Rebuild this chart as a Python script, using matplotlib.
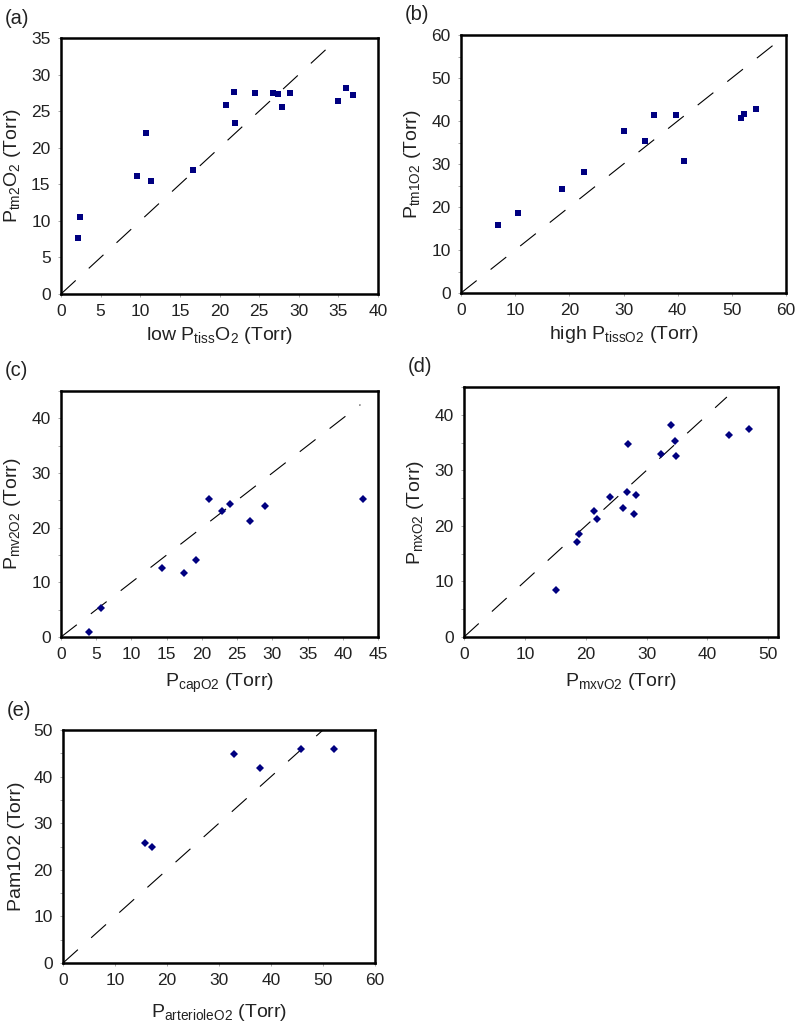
import matplotlib
matplotlib.use('Agg')
import matplotlib.pyplot as plt
from matplotlib.ticker import MultipleLocator

plt.rcParams['font.family'] = ['Liberation Sans', 'DejaVu Sans']
plt.rcParams['mathtext.fontset'] = 'custom'
plt.rcParams['mathtext.rm'] = 'Liberation Sans'
plt.rcParams['mathtext.it'] = 'Liberation Sans:italic'

# (a) low tissue PO2 vs Ptm2O2
a_x = [2.1, 2.4, 9.6, 10.7, 11.4, 16.7, 20.8, 21.8, 22.0, 24.5, 26.8, 27.4, 27.9, 28.9, 35.0, 35.9, 36.8]
a_y = [7.7, 10.5, 16.2, 22.0, 15.5, 17.0, 25.9, 27.6, 23.4, 27.5, 27.5, 27.3, 25.5, 27.5, 26.4, 28.2, 27.2]

# (b) high tissue PO2 vs Ptm1O2
b_x = [6.85, 10.6, 18.6, 22.65, 30.1, 33.9, 35.7, 39.6, 41.2, 51.6, 52.2, 54.4]
b_y = [15.9, 18.65, 24.3, 28.2, 37.7, 35.4, 41.3, 41.3, 30.6, 40.6, 41.6, 42.8]

# (c) capillary PO2 vs Pmv2O2
c_x = [4.0, 5.7, 14.4, 17.4, 19.1, 21.0, 22.9, 24.0, 26.8, 29.0, 42.9]
c_y = [0.9, 5.35, 12.6, 11.7, 14.1, 25.2, 23.0, 24.3, 21.3, 24.0, 25.2]

# (d) PmxvO2 vs PmxO2
d_x = [15.05, 18.6, 18.85, 21.4, 21.9, 24.0, 26.2, 26.8, 26.9, 27.9, 28.3, 32.4, 34.0, 34.7, 34.9, 43.5, 46.8]
d_y = [8.5, 17.1, 18.6, 22.6, 21.3, 25.2, 23.3, 26.1, 34.7, 22.2, 25.5, 33.0, 38.2, 35.3, 32.5, 36.4, 37.5]

# (e) arteriole PO2 vs Pam1O2
e_x = [15.8, 17.1, 32.9, 37.9, 45.8, 52.1]
e_y = [25.8, 24.8, 44.9, 41.9, 45.9, 45.9]

panels = [
    # tag, x, y, marker, xlim, ylim, xstep, ystep, diag end, xlabel, ylabel, rect(px), xlabelpad
    ('(a)', a_x, a_y, 's', 40, 35, 5, 5, 34.5,
     r'low $\mathregular{P_{tiss}O_2}$ (Torr)', r'$\mathregular{P_{tm2}O_2}$ (Torr)',
     (61, 38, 378, 294), 4),
    ('(b)', b_x, b_y, 's', 60, 60, 10, 10, 58.5,
     r'high $\mathregular{P_{tissO2}}$ (Torr)', r'$\mathregular{P_{tm1O2}}$ (Torr)',
     (461, 35, 786, 293), 4),
    ('(c)', c_x, c_y, 'D', 45, 45, 5, 10, 42.5,
     r'$\mathregular{P_{capO2}}$ (Torr)', r'$\mathregular{P_{mv2O2}}$ (Torr)',
     (61, 391, 378, 637), 7),
    ('(d)', d_x, d_y, 'D', 51.6, 45, 10, 10, 43.2,
     r'$\mathregular{P_{mxvO2}}$ (Torr)', r'$\mathregular{P_{mxO2}}$ (Torr)',
     (464, 387, 778, 637), 6),
    ('(e)', e_x, e_y, 'D', 60, 50, 10, 10, 50.5,
     r'$\mathregular{P_{arterioleO2}}$ (Torr)', 'Pam1O2 (Torr)',
     (63, 730, 375, 963), 10),
]

W, H = 800, 1022
fig = plt.figure(figsize=(W / 100, H / 100), dpi=100)

for (tag, xs, ys, mk, xmax, ymax, xstep, ystep, dend, xlab, ylab, rect, xpad) in panels:
    (l, t, r, b) = rect
    ax = fig.add_axes([l / W, 1 - b / H, (r - l) / W, (b - t) / H])
    ax.plot([0, dend], [0, dend], color='black', lw=0.8, linestyle=(0, (18, 16)))
    ms = 4.2 if mk == 's' else 4.5
    ax.plot(xs, ys, linestyle='none', marker=mk, ms=ms, color='#000080',
            markeredgewidth=0, clip_on=False)
    ax.set_xlim(0, xmax)
    ax.set_ylim(0, ymax)
    ax.xaxis.set_major_locator(MultipleLocator(xstep))
    ax.yaxis.set_major_locator(MultipleLocator(ystep))
    if ystep == 10:
        ax.yaxis.set_minor_locator(MultipleLocator(5))
    for s in ax.spines.values():
        s.set_linewidth(1.8)
    ax.tick_params(which='both', direction='out', length=2.5, width=0.6,
                   color='#999999', labelsize=12.5, labelcolor='#222222', pad=5)
    ax.set_xlabel(xlab, fontsize=14, color='#222222', labelpad=xpad)
    ax.set_ylabel(ylab, fontsize=14, color='#222222', labelpad=6)
    fig.text((l - 56) / W, 1 - (t - 20) / H, tag, fontsize=14.5,
             color='#222222', va='center', ha='left')

fig.savefig('out.png', dpi=100)
